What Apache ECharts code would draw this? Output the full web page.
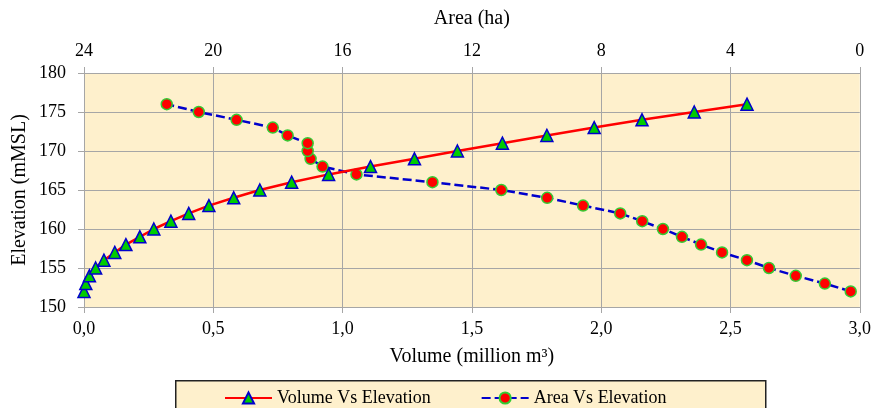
<!DOCTYPE html>
<html>
<head>
<meta charset="utf-8">
<script src="https://cdn.jsdelivr.net/npm/echarts@6/dist/echarts.min.js"></script>
<style>html,body{margin:0;padding:0;background:#fff}#c{width:874px;height:408px}</style>
</head>
<body>
<div id="c"></div>
<script>
var elevation = [152,153,154,155,156,157,158,159,160,161,162,163,164,165,166,167,168,169,170,171,172,173,174,175,176];
var volume = [0.0,0.007,0.021,0.045,0.077,0.119,0.162,0.216,0.270,0.336,0.405,0.483,0.579,0.680,0.803,0.946,1.108,1.278,1.444,1.618,1.790,1.973,2.158,2.360,2.564];
var area = [0.28,1.08,1.98,2.81,3.49,4.26,4.91,5.50,6.09,6.73,7.41,8.56,9.67,11.09,13.22,15.57,16.62,16.99,17.08,17.08,17.70,18.16,19.28,20.45,21.44];
var volumeTicks = [0,0.5,1.0,1.5,2.0,2.5,3.0];
var areaTicks = [0,4,8,12,16,20,24];

var FONT = 'Liberation Serif';
var chart = echarts.init(document.getElementById('c'));
var volData = volume.map(function(v,i){return [v, elevation[i]];});
var areaData = area.map(function(a,i){return [a, elevation[i]];});
var gridColor = '#A6A6A6';
chart.setOption({
  animation:false,
  backgroundColor:'#ffffff',
  textStyle:{fontFamily:FONT},
  grid:{left:84,right:13,top:73,bottom:101,show:true,backgroundColor:'#FEF0CC',borderWidth:0},
  graphic:[{type:'rect',left:175,top:380,shape:{width:590,height:40},style:{fill:'#FEF0CC',stroke:'#222',lineWidth:1.5},z:-1}],
  legend:{left:219,top:384,itemWidth:47,itemHeight:14,itemGap:50,
    textStyle:{fontFamily:FONT,fontSize:18,color:'#000'},
    data:['Volume Vs Elevation','Area Vs Elevation']},
  xAxis:[{
    type:'value',position:'bottom',min:0,max:3,interval:0.5,
    name:'Volume (million m³)',nameLocation:'middle',nameGap:40,
    nameTextStyle:{fontFamily:FONT,fontSize:20,color:'#000'},
    axisLine:{show:true,lineStyle:{color:gridColor}},
    axisTick:{show:true,length:6,lineStyle:{color:gridColor}},
    axisLabel:{margin:13,fontFamily:FONT,fontSize:18,color:'#000',formatter:function(v){return v.toFixed(1).replace('.',',');}},
    splitLine:{show:true,lineStyle:{color:gridColor,width:1}}
  },{
    type:'value',position:'top',min:0,max:24,interval:4,inverse:true,
    name:'Area (ha)',nameLocation:'middle',nameGap:44,
    nameTextStyle:{fontFamily:FONT,fontSize:20,color:'#000'},
    axisLine:{show:true,lineStyle:{color:gridColor}},
    axisTick:{show:true,length:6,lineStyle:{color:gridColor}},
    axisLabel:{margin:13,fontFamily:FONT,fontSize:18,color:'#000'},
    splitLine:{show:false}
  }],
  yAxis:{
    type:'value',min:150,max:180,interval:5,
    name:'Elevation (mMSL)',nameLocation:'middle',nameGap:54,nameMoveOverlap:false,
    nameTextStyle:{fontFamily:FONT,fontSize:20,color:'#000'},
    axisLine:{show:true,lineStyle:{color:gridColor}},
    axisTick:{show:true,length:6,lineStyle:{color:gridColor}},
    axisLabel:{margin:18,fontFamily:FONT,fontSize:18,color:'#000'},
    splitLine:{show:true,lineStyle:{color:gridColor,width:1}}
  },
  series:[{
    name:'Volume Vs Elevation',type:'line',xAxisIndex:0,data:volData,
    lineStyle:{color:'#FF0000',width:2.5},
    symbol:'triangle',symbolSize:12,
    itemStyle:{color:'#00CC00',borderColor:'#0000CC',borderWidth:1.5},
    z:3
  },{
    name:'Area Vs Elevation',type:'line',xAxisIndex:1,data:areaData,
    lineStyle:{color:'#0000CC',width:2.5,type:[9,4]},
    symbol:'circle',symbolSize:11,
    itemStyle:{color:'#FF0000',borderColor:'#33CC33',borderWidth:1.5},
    z:2
  }]
});
</script>
</body>
</html>
